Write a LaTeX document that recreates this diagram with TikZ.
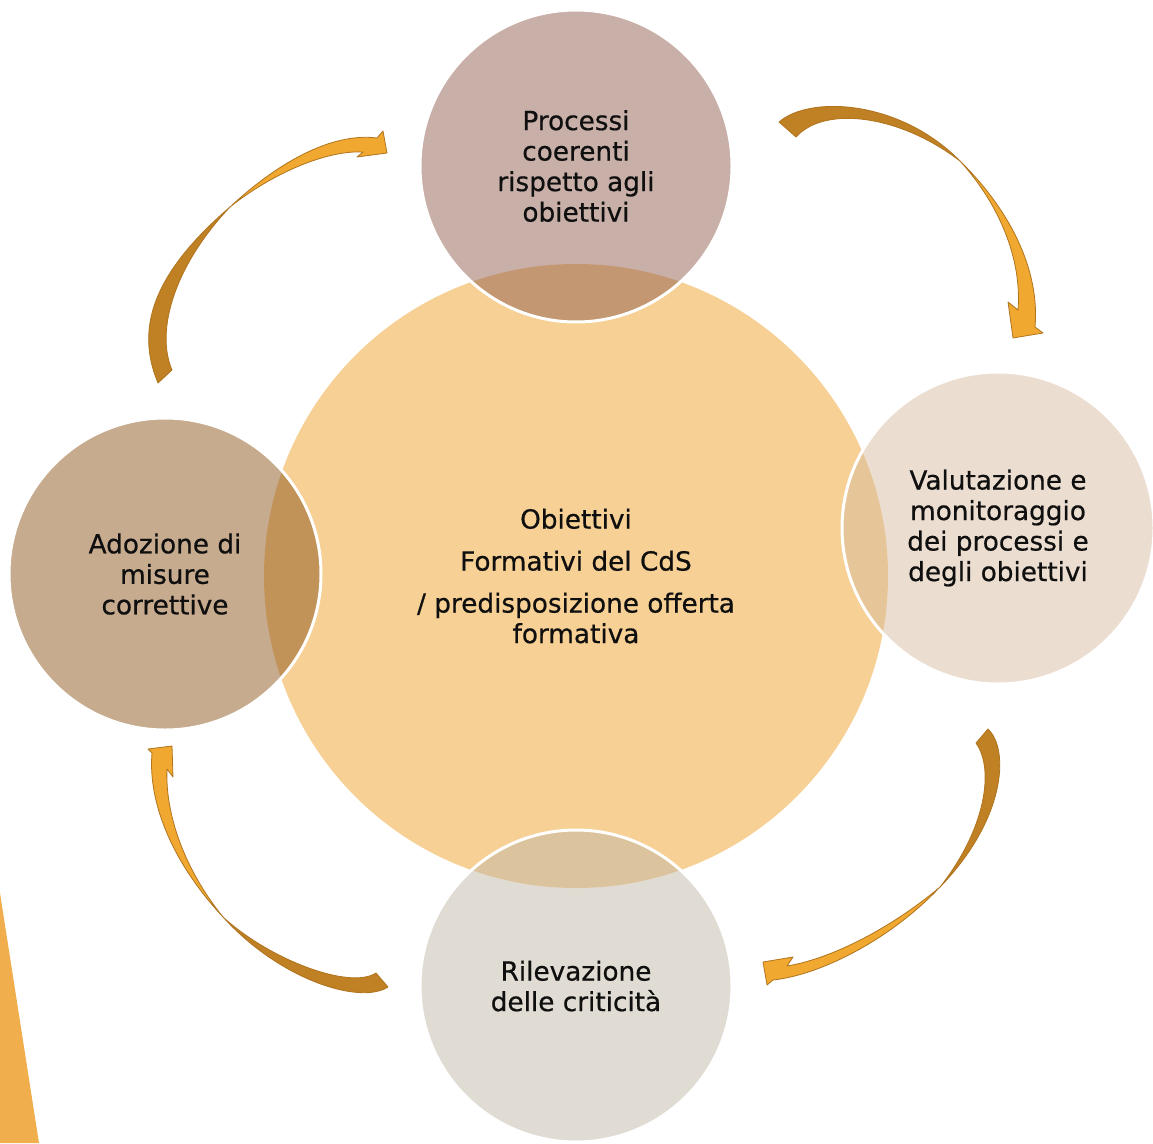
\documentclass[tikz,border=0pt]{standalone}
\usepackage{fontspec}
\setmainfont{DejaVu Sans}[RawFeature={embolden=0.6}]
\definecolor{cCore}{RGB}{246,208,148}
\definecolor{cTop}{RGB}{145,95,81}
\definecolor{cRight}{RGB}{215,187,159}
\definecolor{cBottom}{RGB}{193,185,167}
\definecolor{cLeft}{RGB}{141,87,31}
\definecolor{aLight}{RGB}{240,168,48}
\definecolor{aDark}{RGB}{192,128,36}
\definecolor{aLine}{RGB}{176,116,30}
\definecolor{cStrip}{RGB}{240,174,76}
\definecolor{cText}{RGB}{15,15,15}
\begin{document}
\begin{tikzpicture}[x=1pt,y=-1pt,
  txt/.style={text=cText,align=center,font=\fontsize{26.3}{30.5}\selectfont},
  core/.style={circle,fill=cCore,minimum size=624pt,inner sep=0pt,txt},
  sat/.style={circle,minimum size=312pt,inner sep=0pt,fill opacity=0.5,text opacity=1,draw=white,draw opacity=1,line width=3pt,txt},
  adark/.style={fill=aDark,draw=aLine,line width=0.8pt,line join=round},
  alight/.style={fill=aLight,draw=aLine,line width=0.8pt,line join=round}]
\useasboundingbox (0,0) rectangle (1153,1143);
% decorative strip
\fill[cStrip] (0,893) -- (39,1143) -- (0,1143) -- cycle;
% arrow top-right
\filldraw[adark] (779,122) .. controls (810,95) and (900,100) .. (960,161)
  .. controls (900,115) and (825,105) .. (796,137) -- cycle;
\filldraw[alight] (960,161) .. controls (1010,210) and (1040,270) .. (1035,327)
  -- (1043,333) -- (1013,338) -- (1008,302) -- (1018,310)
  .. controls (1022,260) and (1000,205) .. (960,161) -- cycle;
% arrow right-bottom
\filldraw[adark] (988,729) .. controls (1010,750) and (1005,820) .. (940,887)
  .. controls (985,830) and (995,770) .. (976,743) -- cycle;
\filldraw[alight] (940,887) .. controls (890,940) and (820,975) .. (773,980)
  -- (767,985) -- (763,962) -- (793,957) -- (787,966)
  .. controls (835,958) and (895,925) .. (940,887) -- cycle;
% arrow bottom-left
\filldraw[adark] (388,987) .. controls (360,1005) and (280,980) .. (223,917)
  .. controls (270,960) and (350,990) .. (376,973) -- cycle;
\filldraw[alight] (223,917) .. controls (170,860) and (148,800) .. (152,753)
  -- (148,749) -- (172,746) -- (173,777) -- (167,769)
  .. controls (165,815) and (185,870) .. (223,917) -- cycle;
% arrow left-top
\filldraw[adark] (158,383) .. controls (138,335) and (145,280) .. (230,207)
  .. controls (175,265) and (155,330) .. (172,370) -- cycle;
\filldraw[alight] (230,207) .. controls (275,165) and (330,132) .. (377,138)
  -- (383,131) -- (387,153) -- (357,157) -- (363,152)
  .. controls (325,150) and (270,175) .. (230,207) -- cycle;
% circles
\node[core] (core) at (576,576) {Obiettivi\\[11.5pt]Formativi del CdS\\[11.5pt]/ predisposizione offerta\\formativa};
\node[sat,fill=cTop] (top) at (576,166) {Processi\\coerenti\\rispetto agli\\obiettivi};
\node[sat,fill=cRight] (right) at (998,528) {Valutazione e\\monitoraggio\\dei processi e\\degli obiettivi};
\node[sat,fill=cBottom] (bottom) at (576,986) {Rilevazione\\delle criticità};
\node[sat,fill=cLeft] (left) at (165,574) {Adozione di\\misure\\correttive};
\end{tikzpicture}
\end{document}
